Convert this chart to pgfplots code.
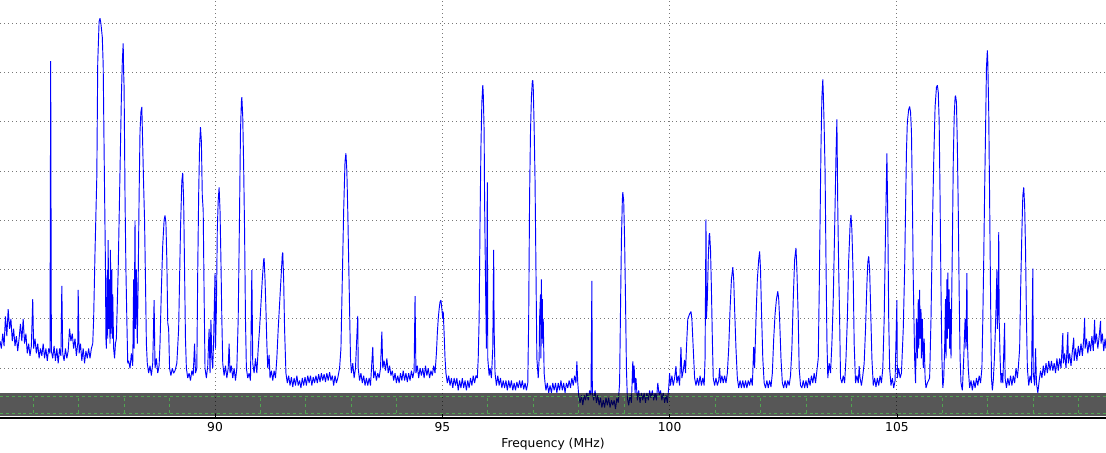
\documentclass[border=0pt]{standalone}
\usepackage{pgfplots}
\pgfplotsset{compat=1.18}
\usepackage{fontspec}
\setmainfont{DejaVu Sans}
\definecolor{specblue}{RGB}{0,0,255}
\definecolor{bandgreen}{RGB}{80,165,80}
\definecolor{gridgray}{RGB}{120,120,120}
\begin{document}
\begin{tikzpicture}
\begin{axis}[
  width=829.5pt, height=313.5pt, scale only axis,
  xmin=85.27, xmax=109.60, ymin=-100.1, ymax=-15.3,
  axis x line*=bottom, axis y line*=left,
  y axis line style={draw=none},
  ytick style={draw=none},
  ytick={-90,-80,...,-20}, yticklabels={},
  xtick={90,95,100,105},
  tick align=inside, major tick length=3pt,
  xtick style={black, line width=0.6pt},
  grid=major,
  major grid style={gridgray, line width=0.7pt, dash pattern=on 0.8pt off 2.2pt},
  x axis line style={black, line width=0.9pt},
  /pgf/number format/assume math mode=true,
  tick label style={font=\fontsize{9.2}{11}\selectfont},
  xlabel={Frequency (MHz)},
  xlabel style={font=\fontsize{9.2}{11}\selectfont, yshift=2pt},
  clip=true,
]
\addplot[specblue, line width=0.7pt, line join=bevel] table {
85.27 -84.5
85.30 -86.0
85.33 -83.0
85.36 -85.5
85.39 -79.5
85.42 -83.5
85.45 -78.0
85.48 -82.0
85.51 -80.0
85.54 -84.5
85.57 -82.0
85.60 -85.5
85.63 -83.5
85.66 -86.5
85.69 -84.0
85.72 -81.0
85.75 -84.5
85.78 -80.0
85.81 -85.0
85.84 -83.0
85.87 -87.0
85.90 -85.0
85.93 -87.5
85.96 -85.5
85.99 -76.0
86.01 -86.0
86.04 -84.0
86.07 -87.0
86.10 -85.0
86.13 -88.0
86.16 -86.0
86.19 -87.5
86.22 -85.0
86.25 -88.0
86.28 -86.0
86.31 -88.5
86.34 -86.0
86.37 -87.0
86.385 -27.7
86.40 -86.5
86.43 -88.0
86.46 -85.5
86.49 -88.5
86.52 -86.0
86.55 -89.0
86.58 -86.0
86.61 -87.5
86.63 -73.3
86.65 -87.0
86.68 -88.5
86.71 -86.0
86.74 -88.0
86.77 -86.5
86.80 -82.0
86.83 -84.5
86.86 -83.0
86.89 -86.0
86.92 -84.0
86.95 -87.5
86.98 -85.0
86.99 -74.1
87.01 -87.0
87.04 -85.0
87.07 -88.5
87.10 -86.0
87.13 -89.0
87.16 -86.5
87.19 -88.0
87.22 -86.0
87.25 -88.0
87.28 -86.0
87.31 -85.0
87.33 -80.0
87.36 -66.5
87.40 -51.0
87.42 -28.0
87.45 -19.7
87.47 -19.0
87.49 -20.1
87.52 -22.8
87.54 -28.5
87.56 -45.8
87.59 -69.5
87.60 -84
87.61 -86
87.63 -70
87.64 -84
87.65 -64
87.66 -82
87.68 -72
87.69 -85
87.70 -66
87.71 -83
87.73 -70
87.74 -84
87.75 -75
87.77 -86
87.79 -88
87.81 -85
87.83 -84
87.87 -70
87.91 -50
87.94 -35
87.96 -28
87.98 -24.1
87.99 -30
88.00 -33
88.02 -55
88.04 -70
88.06 -80
88.08 -89
88.10 -88.5
88.13 -90
88.16 -87
88.19 -89.5
88.21 -72
88.22 -86
88.24 -60
88.25 -82
88.27 -70
88.29 -85
88.31 -72
88.33 -55
88.35 -42
88.37 -38
88.39 -37
88.41 -45
88.43 -53
88.45 -60
88.47 -72
88.49 -85
88.51 -89
88.54 -91
88.57 -89.5
88.60 -91.5
88.63 -89
88.66 -76.2
88.68 -90
88.71 -88
88.74 -91
88.77 -89.5
88.79 -85
88.82 -74
88.85 -65
88.88 -60
88.90 -59
88.92 -60.5
88.94 -68
88.96 -80.8
88.98 -82
89.00 -90
89.03 -91.5
89.06 -90
89.09 -91
89.12 -90.5
89.16 -89
89.20 -82
89.24 -62
89.27 -52
89.29 -50.4
89.31 -56
89.33 -70
89.35 -84
89.37 -90
89.40 -92
89.43 -91
89.46 -92.5
89.49 -90.5
89.52 -91.5
89.55 -85
89.57 -91
89.60 -90
89.62 -70
89.64 -55
89.66 -45
89.68 -41.1
89.70 -44
89.72 -55
89.74 -58
89.76 -75
89.78 -90
89.81 -92
89.84 -89.5
89.87 -82
89.89 -91
89.91 -80.2
89.93 -88
89.95 -90
89.97 -84
90.00 -70.7
90.01 -86
90.03 -78
90.05 -62
90.07 -56
90.09 -53.3
90.11 -58
90.13 -68
90.15 -80
90.17 -89
90.20 -91.5
90.23 -89.5
90.26 -92
90.29 -90
90.31 -85
90.33 -91
90.36 -89.5
90.39 -92
90.42 -90
90.45 -92.5
90.48 -90
90.51 -80
90.54 -58
90.56 -42
90.58 -36
90.59 -35
90.61 -39
90.63 -49
90.65 -62
90.67 -80
90.69 -90
90.72 -92
90.75 -91
90.78 -92.5
90.81 -70.1
90.83 -89
90.86 -91
90.89 -88
90.92 -91
90.95 -86
90.98 -82
91.01 -77
91.04 -72
91.07 -68
91.08 -67.7
91.10 -72
91.12 -78
91.14 -85
91.16 -90
91.19 -87.3
91.21 -92
91.24 -90.5
91.27 -92.5
91.30 -90.5
91.33 -92
91.36 -88
91.39 -82
91.42 -77
91.45 -72
91.48 -67
91.49 -66.5
91.51 -72
91.53 -82
91.56 -91
91.59 -93
91.62 -91.5
91.65 -93.5
91.68 -91.8
91.71 -93.8
91.74 -92
91.77 -93.5
91.80 -91.5
91.83 -93.5
91.86 -92.5
91.89 -94
91.92 -92
91.95 -93.5
91.98 -91.8
92.01 -93.5
92.04 -91.5
92.07 -93
92.10 -91.5
92.13 -93.5
92.16 -91.8
92.19 -93
92.22 -91.5
92.25 -93
92.28 -91.2
92.31 -92.8
92.34 -91.0
92.37 -92.5
92.40 -91.2
92.43 -92.8
92.46 -91.0
92.49 -92.5
92.52 -90.8
92.55 -92.5
92.58 -91.5
92.61 -93.5
92.64 -91.5
92.67 -93.0
92.70 -92.0
92.74 -90
92.77 -86
92.80 -72
92.83 -58
92.86 -48
92.88 -46.4
92.90 -50
92.92 -58
92.94 -68
92.96 -78
92.98 -88
93.00 -91
93.03 -89
93.06 -92
93.09 -90
93.14 -79.4
93.15 -90
93.18 -92.5
93.21 -91
93.24 -93
93.27 -91.5
93.30 -93.5
93.33 -92
93.36 -93.5
93.39 -92
93.42 -93.5
93.47 -85.7
93.49 -92
93.52 -90.5
93.55 -92.5
93.58 -91
93.61 -92
93.64 -90
93.67 -82.6
93.69 -90
93.72 -88.5
93.75 -90.5
93.78 -88
93.81 -91
93.84 -89.5
93.87 -91.5
93.90 -90.5
93.93 -92.5
93.96 -91
93.99 -93
94.02 -91.5
94.05 -93
94.08 -91
94.11 -92.5
94.14 -90.5
94.17 -92.5
94.20 -91
94.23 -92.8
94.26 -91
94.29 -92.5
94.32 -90.5
94.35 -92
94.38 -90.5
94.40 -75.4
94.42 -91
94.45 -89.5
94.48 -92
94.51 -90
94.54 -91.5
94.57 -90
94.60 -92
94.63 -89.5
94.66 -91.5
94.69 -90
94.72 -92
94.75 -90.5
94.78 -91.5
94.81 -89.5
94.84 -91
94.87 -87
94.89 -83
94.91 -80
94.93 -78
94.95 -76.5
94.97 -76.2
94.99 -78
95.01 -80
95.02 -78.5
95.04 -83
95.06 -88
95.08 -91
95.11 -93
95.14 -91.5
95.17 -93.5
95.20 -92
95.23 -94
95.26 -92
95.29 -93.5
95.32 -92
95.35 -94.5
95.38 -92.5
95.41 -94
95.44 -92
95.47 -94
95.50 -92.5
95.53 -94.5
95.56 -92.5
95.59 -94
95.62 -92
95.65 -93.5
95.68 -91.5
95.71 -93
95.74 -91.5
95.77 -92
95.79 -88
95.81 -80
95.83 -60
95.85 -45
95.87 -36
95.89 -32.6
95.90 -34
95.92 -42
95.93 -56
95.95 -72
95.97 -86
95.99 -52.3
96.00 -88
96.03 -91.5
96.05 -90
96.08 -92
96.11 -86
96.13 -66.0
96.14 -82
96.16 -91
96.19 -93.5
96.22 -91.5
96.25 -93.5
96.28 -92
96.31 -94
96.34 -92.5
96.37 -94
96.40 -92.5
96.43 -94.5
96.46 -92.5
96.49 -94
96.52 -92.5
96.55 -94.5
96.58 -93
96.61 -94.5
96.64 -92.8
96.67 -94
96.70 -92.5
96.73 -94
96.76 -92.5
96.79 -94.3
96.82 -93
96.85 -94.5
96.88 -93
96.90 -80
96.92 -55
96.94 -42
96.96 -35
96.98 -31.8
96.99 -31.6
97.00 -33
97.02 -41
97.04 -52
97.06 -70
97.08 -88
97.11 -92
97.13 -88
97.14 -80
97.16 -75
97.17 -88
97.18 -72
97.19 -84
97.20 -76
97.21 -85
97.22 -80
97.24 -91
97.26 -93
97.28 -94.5
97.31 -93
97.34 -95
97.37 -93.5
97.40 -95
97.43 -93
97.46 -94.5
97.49 -93
97.52 -95
97.55 -93
97.58 -94.5
97.61 -92.5
97.64 -94.5
97.67 -93
97.70 -95
97.73 -93
97.76 -94
97.79 -92.5
97.82 -94
97.85 -92
97.88 -93.5
97.91 -91.5
97.94 -93
97.96 -88.6
97.98 -93
98.00 -95.5
98.03 -97
98.06 -95.5
98.09 -97.5
98.12 -95.5
98.15 -96.5
98.18 -95
98.21 -96.5
98.24 -94.5
98.27 -95.5
98.29 -72.3
98.30 -95
98.33 -96.5
98.36 -94.5
98.39 -97
98.42 -95.5
98.45 -97.5
98.48 -96
98.51 -98
98.54 -96.5
98.57 -98
98.60 -96
98.63 -97.5
98.66 -96
98.69 -98
98.72 -96.5
98.75 -97.5
98.78 -96.5
98.81 -98.3
98.84 -96
98.87 -97
98.90 -93
98.92 -78
98.94 -64
98.96 -56
98.97 -54.3
98.99 -56
99.01 -64
99.03 -76
99.05 -90
99.07 -96
99.10 -97.5
99.13 -95.5
99.16 -97
99.19 -88.6
99.20 -93
99.22 -89.5
99.24 -95
99.26 -92
99.29 -96.5
99.32 -94.5
99.35 -97
99.38 -95
99.41 -96.5
99.44 -95
99.47 -97
99.50 -95
99.53 -96.5
99.56 -94.5
99.59 -96
99.62 -94.5
99.65 -96.5
99.68 -95
99.71 -96.5
99.74 -93
99.77 -95.5
99.80 -94.5
99.83 -96.5
99.86 -95
99.89 -97
99.92 -95.5
99.95 -97
99.98 -94
100.00 -91
100.02 -93.5
100.05 -91.5
100.08 -93.5
100.11 -92
100.14 -89.6
100.16 -93
100.19 -91.5
100.22 -93.5
100.25 -85.7
100.27 -92
100.30 -90.5
100.33 -88.3
100.35 -91
100.37 -86
100.40 -80
100.44 -79
100.47 -78.5
100.49 -80
100.52 -86
100.55 -92
100.58 -93.5
100.61 -92
100.64 -93.5
100.67 -91.5
100.70 -93.5
100.73 -92
100.76 -93.5
100.78 -88
100.80 -59.8
100.81 -80
100.83 -76
100.85 -68
100.87 -63
100.88 -62.6
100.90 -66
100.92 -74
100.94 -84
100.96 -92
100.99 -93.5
101.02 -92
101.05 -93.5
101.08 -92.5
101.10 -90
101.12 -93
101.15 -91.5
101.18 -93
101.21 -91.5
101.24 -93
101.27 -91
101.30 -86
101.33 -78
101.36 -72
101.39 -69.5
101.41 -72
101.43 -78
101.46 -86
101.49 -92
101.52 -94
101.55 -92.5
101.58 -94
101.61 -92.5
101.64 -94
101.67 -92.5
101.70 -94
101.73 -92.5
101.76 -93.5
101.79 -92
101.82 -93.5
101.85 -85.7
101.87 -90
101.90 -80
101.93 -72
101.96 -68
101.98 -66.3
102.00 -70
102.02 -78
102.05 -88
102.08 -93
102.11 -94
102.14 -92.5
102.17 -94
102.20 -92.5
102.23 -93.8
102.26 -91
102.29 -84
102.32 -79
102.35 -76
102.38 -74.4
102.40 -76
102.42 -80
102.45 -88
102.48 -93
102.51 -94
102.54 -92.5
102.57 -94
102.60 -92.5
102.63 -93.5
102.66 -91.5
102.69 -86
102.72 -76
102.75 -68
102.78 -65.6
102.80 -70
102.83 -80
102.85 -90
102.88 -93.5
102.91 -94
102.94 -92.5
102.97 -94
103.00 -92.5
103.03 -94
103.06 -92
103.09 -93.5
103.12 -91.5
103.15 -93
103.18 -91
103.21 -93
103.24 -90.5
103.27 -88
103.29 -75
103.31 -60
103.33 -45
103.35 -35
103.37 -31.4
103.38 -34
103.40 -41
103.42 -50
103.44 -68
103.46 -84
103.48 -92
103.51 -89
103.54 -91
103.57 -85
103.60 -76
103.63 -62
103.66 -47
103.68 -39.5
103.70 -58
103.72 -70
103.74 -80
103.76 -92
103.79 -93
103.82 -91.5
103.85 -93
103.88 -88
103.91 -80
103.94 -68
103.97 -61
103.99 -58.9
104.01 -62
104.04 -72
104.06 -85
104.09 -93
104.12 -91.5
104.15 -93
104.17 -89.6
104.19 -92
104.22 -93.5
104.25 -91.5
104.28 -89
104.31 -82
104.34 -73
104.36 -68.5
104.38 -67.3
104.40 -70
104.42 -77
104.45 -88
104.48 -93.5
104.51 -92
104.54 -93.8
104.57 -92
104.60 -93.5
104.63 -91.5
104.66 -93
104.69 -90
104.72 -80
104.75 -62
104.78 -46.4
104.80 -60
104.82 -80
104.84 -90
104.87 -93.5
104.90 -92
104.93 -94
104.96 -92.5
105.00 -76.2
105.01 -92
105.04 -90
105.07 -92
105.10 -91
105.14 -82
105.17 -70
105.19 -58
105.21 -46
105.23 -40
105.26 -37.5
105.28 -36.9
105.30 -38
105.32 -42
105.34 -55
105.36 -72
105.39 -88
105.41 -93
105.43 -80
105.45 -88
105.47 -76
105.48 -86
105.50 -74.1
105.51 -84
105.53 -78
105.54 -88
105.56 -80
105.58 -90
105.60 -84
105.62 -92
105.64 -94
105.67 -93
105.72 -92
105.75 -80
105.78 -62
105.81 -48
105.84 -37
105.87 -33
105.89 -32.6
105.91 -34
105.93 -40
105.95 -56
105.97 -74
105.99 -88
106.01 -94
106.03 -92
106.05 -86
106.07 -76
106.08 -88
106.10 -72
106.11 -84
106.12 -70.6
106.13 -82
106.15 -74
106.16 -86
106.18 -78
106.19 -88
106.20 -80
106.22 -65
106.24 -48
106.26 -39
106.28 -35
106.29 -34.7
106.31 -36
106.33 -45
106.35 -58
106.37 -75
106.39 -88
106.41 -93
106.44 -94.5
106.47 -88
106.50 -80
106.52 -86
106.54 -70.7
106.55 -84
106.57 -90
106.60 -94
106.63 -92.5
106.66 -94.5
106.69 -92.5
106.72 -94
106.75 -92
106.78 -93.5
106.81 -91.5
106.84 -93
106.87 -90
106.89 -80
106.91 -68
106.93 -54
106.95 -42
106.97 -29
106.99 -25.5
107.00 -28
107.02 -38
107.04 -56
107.06 -75
107.08 -92
107.10 -94.5
107.12 -92.5
107.14 -89
107.16 -84
107.18 -78
107.20 -70
107.21 -82
107.23 -76
107.24 -62.4
107.25 -80
107.27 -88
107.29 -93
107.31 -91
107.33 -93
107.37 -80.8
107.38 -92
107.41 -94
107.44 -92
107.47 -93.5
107.50 -91.5
107.53 -93.5
107.56 -91.5
107.59 -93
107.62 -90
107.65 -92
107.67 -90
107.70 -86
107.72 -75
107.75 -62
107.77 -55
107.79 -53.3
107.81 -57
107.83 -66
107.85 -80
107.87 -90
107.90 -93.5
107.93 -91.5
107.96 -93
107.99 -69.8
108.00 -91
108.03 -93.5
108.05 -86
108.07 -93
108.10 -95
108.13 -92.5
108.16 -90.5
108.19 -92
108.22 -89.5
108.25 -91.5
108.28 -89
108.31 -91
108.34 -88.5
108.37 -90.5
108.40 -88.5
108.43 -90.5
108.46 -89
108.49 -91
108.52 -88
108.55 -90.5
108.58 -88
108.61 -90
108.65 -82.9
108.66 -89
108.69 -87
108.72 -90
108.74 -86.5
108.76 -82.7
108.77 -89
108.80 -87
108.83 -89.5
108.86 -86.5
108.89 -83.8
108.90 -88.5
108.93 -86
108.96 -88.5
108.99 -85.5
109.02 -87.5
109.05 -85
109.08 -87.5
109.11 -84
109.13 -79.8
109.14 -86
109.17 -84
109.20 -87
109.23 -84.5
109.26 -86.5
109.29 -83.5
109.32 -86.5
109.35 -80.2
109.36 -85
109.39 -83
109.42 -86
109.45 -83.5
109.48 -80.4
109.49 -85
109.52 -83
109.55 -86.5
109.58 -84
109.60 -86
};
\fill[black, fill opacity=0.66] (axis cs:85.2,-99.7) rectangle (axis cs:109.7,-95.04);
\draw[bandgreen, line width=0.7pt, dash pattern=on 2.2pt off 2.2pt] (axis cs:85.27,-95.65) -- (axis cs:109.6,-95.65);
\draw[bandgreen, line width=0.7pt, dash pattern=on 2.2pt off 2.2pt] (axis cs:85.27,-99.1) -- (axis cs:109.6,-99.1);
\pgfplotsinvokeforeach{86,87,88,89,91,92,93,94,96,97,98,99,101,102,103,104,106,107,108,109}{
  \draw[bandgreen, line width=0.7pt, dash pattern=on 2.2pt off 2.2pt] (axis cs:#1,-99.1) -- (axis cs:#1,-95.65);
}
\end{axis}
\pgfresetboundingbox
\path[use as bounding box] ([yshift=-26.25pt]current axis.south west) rectangle (current axis.north east);
\end{tikzpicture}
\end{document}
